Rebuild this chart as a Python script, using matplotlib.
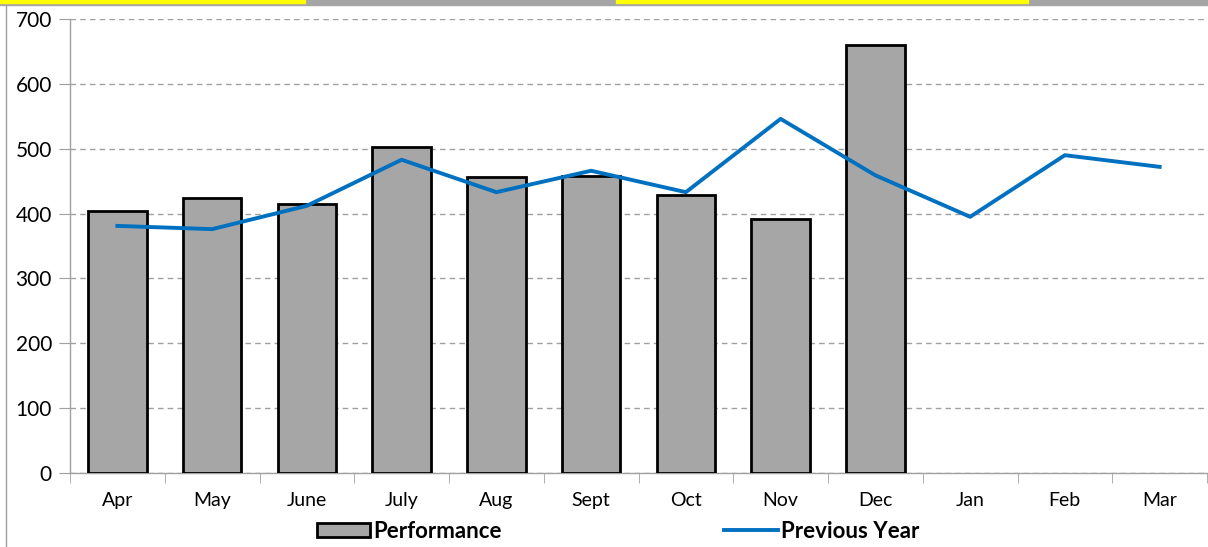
import matplotlib
matplotlib.use('Agg')
import matplotlib.pyplot as plt
from matplotlib.patches import Rectangle
from matplotlib.lines import Line2D
import numpy as np

plt.rcParams['font.family'] = ['Lato', 'DejaVu Sans']

months = ['Apr', 'May', 'June', 'July', 'Aug', 'Sept', 'Oct', 'Nov', 'Dec', 'Jan', 'Feb', 'Mar']
performance = [404, 424, 415, 503, 456, 458, 429, 392, 660]
previous_year = [381, 376, 412, 483, 433, 466, 433, 546, 459, 395, 490, 472]

fig = plt.figure(figsize=(12.08, 5.47), dpi=100)
ax = fig.add_axes([70 / 1208, 1 - 473 / 547, 1137 / 1208, 454 / 547])

x = np.arange(len(months))
ax.bar(x[:len(performance)], performance, width=0.62, color='#a6a6a6',
       edgecolor='black', linewidth=2, zorder=3)
ax.plot(x, previous_year, color='#0070c0', linewidth=2.8, zorder=4)

ax.set_xlim(-0.5, len(months) - 0.5)
ax.set_ylim(0, 700)
ax.set_yticks(range(0, 701, 100))
ax.yaxis.grid(True, linestyle=(0, (4, 3)), color='#a0a0a0', linewidth=1)
ax.set_axisbelow(True)

ax.set_xticks(x)
ax.set_xticklabels(months, fontsize=14)
ax.set_xticks(np.arange(-0.5, len(months)), minor=True)
ax.tick_params(axis='x', which='major', length=0, pad=14)
ax.tick_params(axis='x', which='minor', length=7, color='#a0a0a0', direction='out')
ax.tick_params(axis='y', length=8, color='#a0a0a0', labelsize=15, pad=5)

for s in ['top', 'right']:
    ax.spines[s].set_visible(False)
for s in ['left', 'bottom']:
    ax.spines[s].set_color('#a0a0a0')
    ax.spines[s].set_linewidth(1)

handles = [Rectangle((0, 0), 1, 1, facecolor='#a6a6a6', edgecolor='black', linewidth=2),
           Line2D([0], [0], color='#0070c0', linewidth=2.8)]
fig.legend(handles, ['Performance', 'Previous Year'], loc='center',
           bbox_to_anchor=(618 / 1208, 1 - 531 / 547), ncol=2, frameon=False,
           prop={'weight': 'bold', 'size': 16}, handlelength=2.4, handleheight=0.6,
           handletextpad=0.15, columnspacing=10)

# screenshot border artefacts
fig.patches.append(Rectangle((0, 1 - 5 / 547), 1, 5 / 547, transform=fig.transFigure,
                             color='#a5a5a5', zorder=0))
fig.patches.append(Rectangle((0, 1 - 3 / 547), 305 / 1208, 3 / 547, transform=fig.transFigure,
                             color='#ffff00', zorder=1))
fig.patches.append(Rectangle((616 / 1208, 1 - 3 / 547), 412 / 1208, 3 / 547,
                             transform=fig.transFigure, color='#ffff00', zorder=1))
fig.add_artist(Line2D([6 / 1208, 6 / 1208], [0, 1 - 5 / 547], transform=fig.transFigure,
                      color='#a0a0a0', linewidth=1))

fig.savefig('out.png', dpi=100)
